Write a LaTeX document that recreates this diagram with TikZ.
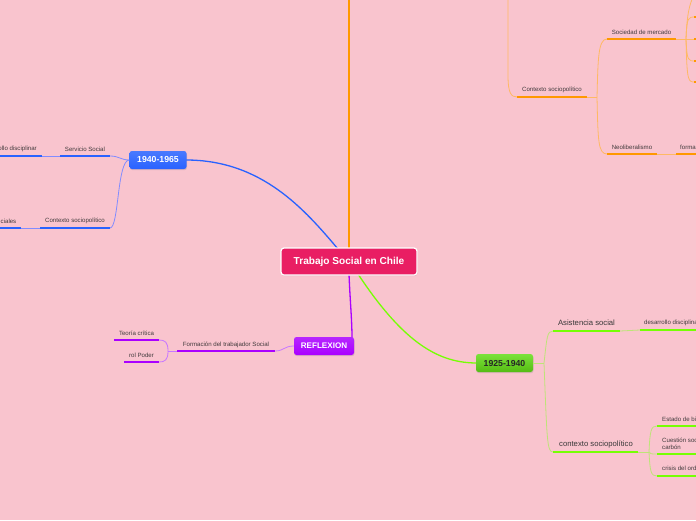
\documentclass[tikz,border=0pt]{standalone}
\usepackage{fontspec}
\setmainfont{Liberation Sans}
\usetikzlibrary{shadows}
\definecolor{bgpink}{RGB}{249,196,206}
\definecolor{rootred}{RGB}{233,30,99}
\definecolor{tblue}{RGB}{41,98,255}
\definecolor{tbluelt}{RGB}{130,140,255}
\definecolor{torange}{RGB}{255,152,0}
\definecolor{torangelt}{RGB}{255,185,100}
\definecolor{tgreen}{RGB}{118,255,3}
\definecolor{tgreenlt}{RGB}{190,228,120}
\definecolor{tgreenbox}{RGB}{100,221,23}
\definecolor{tpurple}{RGB}{170,0,255}
\definecolor{tpurplelt}{RGB}{200,120,255}
\definecolor{lbltext}{RGB}{65,58,60}
\begin{document}
\begin{tikzpicture}[x=1pt,y=-1pt,
  every node/.style={inner sep=0pt},
  lbl/.style={font=\fontsize{6.1}{6.8}\selectfont,text=lbltext},
  biglbl/.style={font=\fontsize{7.7}{8.5}\selectfont,text=black!78},
  topic/.style={rounded corners=2.5pt,minimum width=57pt,minimum height=18pt,
    font=\fontsize{8.7}{9}\selectfont\bfseries,text=white,
    drop shadow={shadow xshift=0.5pt,shadow yshift=-1.2pt,opacity=0.25}},
  ublue/.style={line width=2.6pt,tblue},
  uorange/.style={line width=2.6pt,torange},
  ugreen/.style={line width=2.6pt,tgreen},
  upurple/.style={line width=2.6pt,tpurple},
  cblue/.style={line width=0.8pt,tbluelt},
  corange/.style={line width=0.8pt,torangelt},
  cgreen/.style={line width=0.8pt,tgreenlt},
  cpurple/.style={line width=0.8pt,tpurplelt}]
\useasboundingbox (0,0) rectangle (696,520);
\clip (0,0) rectangle (696,520);
\fill[bgpink] (0,0) rectangle (696,520);
% main branches (drawn under the nodes)
\coordinate (rootN) at (349,249);
\coordinate (rootNW) at (338,249);
\coordinate (rootS) at (349,274);
\coordinate (rootSE) at (358,274);
\coordinate (orTop) at (349,-5);
\coordinate (t40E) at (186,160);
\coordinate (t25W) at (477,363);
\coordinate (reflNE) at (352,338);
\draw[line width=1.3pt,torange] (rootN) -- (orTop);
\draw[line width=1.3pt,tblue] (t40E) .. controls (262,160) and (305,210) .. (rootNW);
\draw[line width=1.3pt,tgreen] (rootSE) .. controls (405,345) and (440,363) .. (t25W);
\draw[line width=1.3pt,tpurple] (rootS) .. controls (350,300) and (352,320) .. (reflNE);
% topic nodes
\node[rounded corners=3pt,fill=rootred,draw=white,line width=1.2pt,
  minimum width=136pt,minimum height=27pt,text=white,
  font=\fontsize{10.1}{11}\selectfont\bfseries,
  drop shadow={shadow xshift=0.5pt,shadow yshift=-1.2pt,opacity=0.2}] (root) at (349,261.5) {Trabajo Social en Chile};
\node[topic,top color=tblue!85!white,bottom color=tblue] (t40) at (158,160) {1940-1965};
\node[topic,top color=tgreenbox!85!white,bottom color=tgreenbox!85!black,text=black!85] (t25) at (504.5,363) {1925-1940};
\node[topic,minimum width=60pt,font=\fontsize{8.1}{9}\selectfont\bfseries,top color=tpurple!85!white,bottom color=tpurple] (refl) at (324,346) {REFLEXION};
% 1940-1965
\coordinate (ssW) at (60,156); \coordinate (ssE) at (110,156);
\coordinate (ddW) at (-10,156); \coordinate (ddE) at (42,156);
\coordinate (cbW) at (40,228); \coordinate (cbE) at (110,228);
\coordinate (csW) at (-10,228); \coordinate (csE) at (21,228);
\draw[cblue] (t40.west) .. controls (121,160) and (119,156) .. (ssE);
\draw[cblue] (t40.west) .. controls (117,160) and (119,228) .. (cbE);
\draw[cblue] (ssW) -- (ddE);
\draw[cblue] (cbW) -- (csE);
\draw[ublue] (ssW) -- (ssE); \draw[ublue] (ddW) -- (ddE);
\draw[ublue] (cbW) -- (cbE); \draw[ublue] (csW) -- (csE);
\node[lbl] (ss) at (85,149) {Servicio Social};
\node[lbl,anchor=east] (dd) at (37,149) {desarrollo disciplinar};
\node[lbl] (cb) at (75,221) {Contexto sociopolítico};
\node[lbl,anchor=east] (cs) at (16.5,221) {ciales};
% orange side
\coordinate (coTop) at (508,-5);
\coordinate (coW) at (517,97); \coordinate (coE) at (587,97);
\coordinate (coJ) at (597,97);
\coordinate (smW) at (607,39); \coordinate (smE) at (676,39);
\coordinate (smJ) at (686,39);
\coordinate (nlW) at (607,154); \coordinate (nlE) at (657,154);
\coordinate (fmW) at (676,154); \coordinate (fmE) at (700,154);
\draw[corange] (coTop) -- (508,75) .. controls (508,93) and (511,97) .. (coW);
\draw[corange] (coE) -- (coJ);
\draw[corange] (coJ) .. controls (598,60) and (598,39) .. (smW);
\draw[corange] (coJ) .. controls (598,140) and (598,154) .. (nlW);
\draw[corange] (smE) -- (smJ);
\draw[corange] (smJ) .. controls (687,12) and (690,4) .. (693,-3);
\foreach \yy in {17,61,82} {
  \draw[corange] (smJ) .. controls (687,\yy) and (688,\yy) .. (695,\yy);
  \draw[uorange] (694,\yy) -- (700,\yy);
}
\draw[corange] (smJ) -- (694,39);
\draw[uorange] (694,39) -- (700,39);
\draw[corange] (nlE) -- (fmW);
\draw[uorange] (coW) -- (coE); \draw[uorange] (smW) -- (smE);
\draw[uorange] (nlW) -- (nlE); \draw[uorange] (fmW) -- (fmE);
\node[lbl] (co) at (552,90) {Contexto sociopolítico};
\node[lbl] (sm) at (641.5,32) {Sociedad de mercado};
\node[lbl] (nl) at (632,147) {Neoliberalismo};
\node[lbl,anchor=west] (fm) at (680,147) {forma};
% 1925-1940
\coordinate (t25J) at (544,363);
\coordinate (asW) at (553,331); \coordinate (asE) at (620,331);
\coordinate (daW) at (640,330); \coordinate (daE) at (700,330);
\coordinate (cxW) at (553,452); \coordinate (cxE) at (638,452);
\coordinate (cxJ) at (649,452);
\coordinate (ebW) at (657,426); \coordinate (qsW) at (657,454); \coordinate (crW) at (657,476);
\draw[cgreen] (t25.east) -- (t25J);
\draw[cgreen] (t25J) .. controls (547,337) and (547,331) .. (asW);
\draw[cgreen] (t25J) .. controls (547,440) and (547,452) .. (cxW);
\draw[cgreen] (asE) -- (daW);
\draw[cgreen] (cxE) -- (cxJ);
\draw[cgreen] (cxJ) .. controls (650,430) and (651,426) .. (ebW);
\draw[cgreen] (cxJ) .. controls (650,454) and (651,454) .. (qsW);
\draw[cgreen] (cxJ) .. controls (650,472) and (651,476) .. (crW);
\draw[ugreen] (asW) -- (asE); \draw[ugreen] (daW) -- (daE);
\draw[ugreen] (cxW) -- (cxE);
\draw[ugreen] (ebW) -- (700,426); \draw[ugreen] (qsW) -- (700,454); \draw[ugreen] (crW) -- (700,476);
\node[biglbl] (as) at (586.5,322.5) {Asistencia social};
\node[lbl,anchor=west] (da) at (644,323) {desarrollo disciplinar};
\node[biglbl] (cx) at (596,444) {contexto sociopolítico};
\node[lbl,anchor=west] (eb) at (662,419) {Estado de bienestar};
\node[lbl,anchor=south west,align=left] (qs) at (662,450) {Cuestión social del\\carbón};
\node[lbl,anchor=west] (cr) at (662,469) {crisis del orden oligárquico};
% REFLEXION
\coordinate (ftW) at (177,351); \coordinate (ftE) at (275,351);
\coordinate (ftJ) at (168,351);
\coordinate (tcW) at (114,340); \coordinate (tcE) at (159,340);
\coordinate (rpW) at (124,362); \coordinate (rpE) at (159,362);
\draw[cpurple] (refl.west) .. controls (284,346) and (284,351) .. (ftE);
\draw[cpurple] (ftW) -- (ftJ);
\draw[cpurple] (ftJ) .. controls (168,342) and (165,340) .. (tcE);
\draw[cpurple] (ftJ) .. controls (168,360) and (165,362) .. (rpE);
\draw[upurple] (ftW) -- (ftE);
\draw[upurple] (tcW) -- (tcE); \draw[upurple] (rpW) -- (rpE);
\node[lbl] (ft) at (226,345) {Formación del trabajador Social};
\node[lbl] (tc) at (136.5,333.5) {Teoría crítica};
\node[lbl] (rp) at (141.5,355) {rol Poder};
\end{tikzpicture}
\end{document}
